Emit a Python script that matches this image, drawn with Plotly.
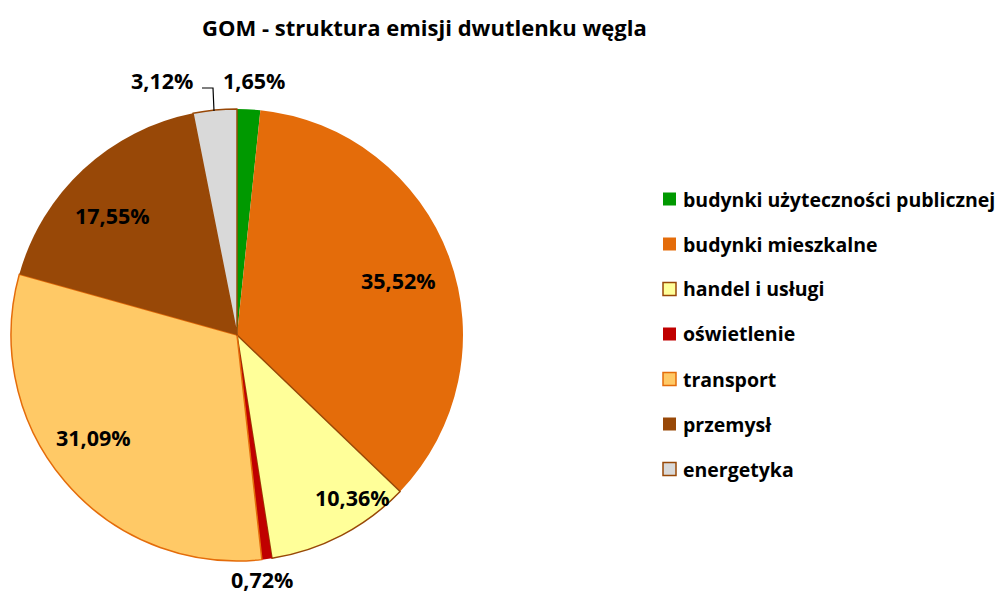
import plotly.graph_objects as go

# ---- data ----
categories = ["budynki użyteczności publicznej", "budynki mieszkalne", "handel i usługi",
              "oświetlenie", "transport", "przemysł", "energetyka"]
values = [1.65, 35.52, 10.36, 0.72, 31.09, 17.55, 3.12]
value_labels = ["1,65%", "35,52%", "10,36%", "0,72%", "31,09%", "17,55%", "3,12%"]

# ---- styles ----
colors = ["#009900", "#E46C0A", "#FFFF99", "#C00000", "#FFC966", "#984807", "#D9D9D9"]
border_colors = ["#009900", "#E46C0A", "#984807", "#C00000", "#E46C0A", "#984807", "#984807"]
border_widths = [0, 0, 1.5, 0, 1.5, 0, 1.5]

OFF = 8  # page body margin
W, H = 1003 - OFF, 594 - OFF
FONT = "Open Sans"


def px(x):
    return (x - OFF) / W


def py(y):
    return 1 - (y - OFF) / H


# pie geometry (screen pixels)
cx, cy, r = 237, 335, 226

# label centers (screen pixels)
label_pos = [(254, 81), (398, 281), (352, 497), (262, 579), (93, 437), (112, 216), (162, 81)]

fig = go.Figure()
fig.add_trace(go.Pie(
    labels=categories,
    values=values,
    sort=False,
    direction="clockwise",
    rotation=0,
    textinfo="none",
    hoverinfo="label+percent",
    marker=dict(colors=colors, line=dict(color=border_colors, width=border_widths)),
    domain=dict(x=[px(cx - r), px(cx + r)], y=[py(cy + r), py(cy - r)]),
    showlegend=False,
))

annotations = []
for txt, (lx, ly) in zip(value_labels, label_pos):
    annotations.append(dict(
        x=px(lx), y=py(ly), xref="paper", yref="paper", text=txt, showarrow=False,
        font=dict(family=FONT, size=21.5, color="#000000", weight="bold"),
        xanchor="center", yanchor="middle"))

# title
annotations.append(dict(
    x=px(424), y=py(27), xref="paper", yref="paper", text="GOM - struktura emisji dwutlenku węgla",
    showarrow=False, font=dict(family=FONT, size=22, color="#000000", weight="bold"),
    xanchor="center", yanchor="middle"))

shapes = []
# leader line for small slice label
shapes.append(dict(type="path", xref="paper", yref="paper",
                   path=f"M {px(202)},{py(88)} L {px(213)},{py(88)} L {px(214)},{py(111)}",
                   line=dict(color="#000000", width=1.2)))

# manual legend
leg_x, leg_y0, leg_dy, sq = 663, 199, 45, 13
for i, (name, c, bc, bw) in enumerate(zip(categories, colors, border_colors, border_widths)):
    yc = leg_y0 + i * leg_dy
    shapes.append(dict(type="rect", xref="paper", yref="paper",
                       x0=px(leg_x), x1=px(leg_x + sq), y0=py(yc + sq / 2), y1=py(yc - sq / 2),
                       fillcolor=c, line=dict(color=bc if bw > 0 else c, width=1.5 if bw > 0 else 0)))
    annotations.append(dict(
        x=px(leg_x + sq + 5), y=py(yc), xref="paper", yref="paper", text=name, showarrow=False,
        font=dict(family=FONT, size=19.5, color="#000000", weight="bold"),
        xanchor="left", yanchor="middle"))

fig.update_layout(
    width=W, height=H,
    margin=dict(l=0, r=0, t=0, b=0),
    paper_bgcolor="#FFFFFF",
    plot_bgcolor="#FFFFFF",
    annotations=annotations,
    shapes=shapes,
)

fig.write_html("out.html")
